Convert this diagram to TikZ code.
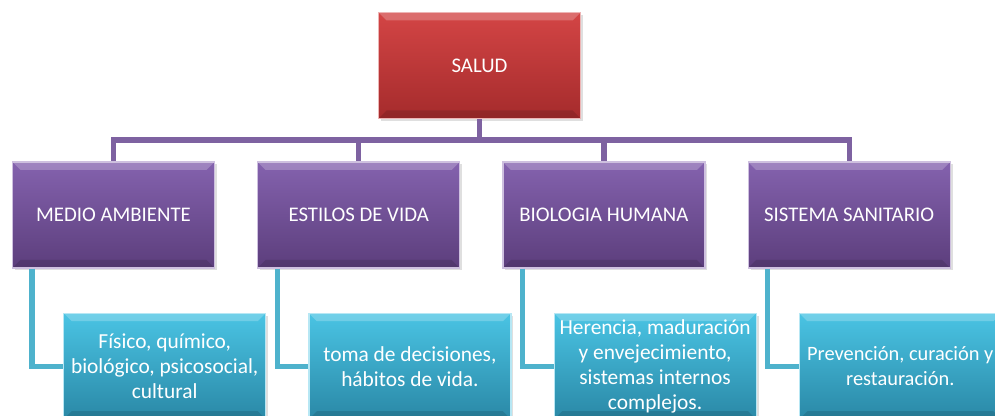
\documentclass[tikz,border=0pt]{standalone}
\usepackage{fontspec}
\setmainfont{Carlito}
\usepackage{tikz}
\usetikzlibrary{positioning,shadows}
\definecolor{SaludTop}{HTML}{D34545}
\definecolor{SaludBot}{HTML}{A52B2C}
\definecolor{FactorTop}{HTML}{8462AE}
\definecolor{FactorBot}{HTML}{5C3E7C}
\definecolor{DetailTop}{HTML}{4AC4E4}
\definecolor{DetailBot}{HTML}{2A88A6}
\definecolor{BarLine}{HTML}{7E62A1}
\definecolor{LinkLine}{HTML}{4EB2CC}

\begin{document}
\begin{tikzpicture}[
  x=0.5pt, y=-0.5pt,
  node distance=99pt and 21pt,
  box/.style={rectangle, minimum width=101pt, minimum height=53pt, inner sep=2pt,
    align=center, text=white, font=\fontsize{10.4}{12.5}\selectfont,
    draw=white!60!#1Top, line width=0.6pt, top color=#1Top, bottom color=#1Bot,
    drop shadow={opacity=0.25, shadow xshift=1.2pt, shadow yshift=-1.2pt},
    path picture={
      \fill[white, opacity=0.22] (path picture bounding box.north west)
        -- (path picture bounding box.north east)
        -- ([xshift=-4pt, yshift=-4pt]path picture bounding box.north east)
        -- ([xshift=4pt, yshift=-4pt]path picture bounding box.north west) -- cycle;
      \fill[black, opacity=0.12] (path picture bounding box.south west)
        -- (path picture bounding box.south east)
        -- ([xshift=-4pt, yshift=4pt]path picture bounding box.south east)
        -- ([xshift=4pt, yshift=4pt]path picture bounding box.south west) -- cycle;
    }},
  detail/.style={box=Detail, font=\fontsize{10.7}{12.5}\selectfont},
  bar/.style={draw=BarLine, line width=2.6pt},
  link/.style={draw=LinkLine, line width=2.6pt}
]
\useasboundingbox (0,0) rectangle (995,416);

\node[box=Salud] (salud) at (479.5,65.5) {SALUD};

\node[box=Factor] (medio) at (113.5,215) {MEDIO AMBIENTE};
\node[box=Factor, right=of medio] (estilos) {ESTILOS DE VIDA};
\node[box=Factor, right=of estilos] (biologia) {BIOLOGIA HUMANA};
\node[box=Factor, right=of biologia] (sistema) {SISTEMA SANITARIO};

\node[detail, below right=22pt and -76pt of medio] (fisico)
  {F\'isico, qu\'imico,\\biol\'ogico, psicosocial,\\cultural};
\node[detail, below right=22pt and -76pt of estilos] (decisiones)
  {toma de decisiones,\\h\'abitos de vida.};
\node[detail, below right=22pt and -76pt of biologia] (herencia)
  {Herencia, maduraci\'on\\y envejecimiento,\\sistemas internos\\complejos.};
\node[detail, below right=22pt and -76pt of sistema, inner xsep=0pt,
  font=\fontsize{10.2}{12.5}\selectfont] (prevencion)
  {Prevenci\'on, curaci\'on y\\restauraci\'on.};

% tronco y ramas
\coordinate (hub) at (479.5,140);
\draw[bar] (salud.south) -- (hub);
\foreach \n in {medio,estilos,biologia,sistema}
  \draw[bar] (hub) -| (\n.north);

% detalles
\draw[link] ([xshift=10pt]medio.south west) |- (fisico.west);
\draw[link] ([xshift=10pt]estilos.south west) |- (decisiones.west);
\draw[link] ([xshift=10pt]biologia.south west) |- (herencia.west);
\draw[link] ([xshift=10pt]sistema.south west) |- (prevencion.west);
\end{tikzpicture}
\end{document}
